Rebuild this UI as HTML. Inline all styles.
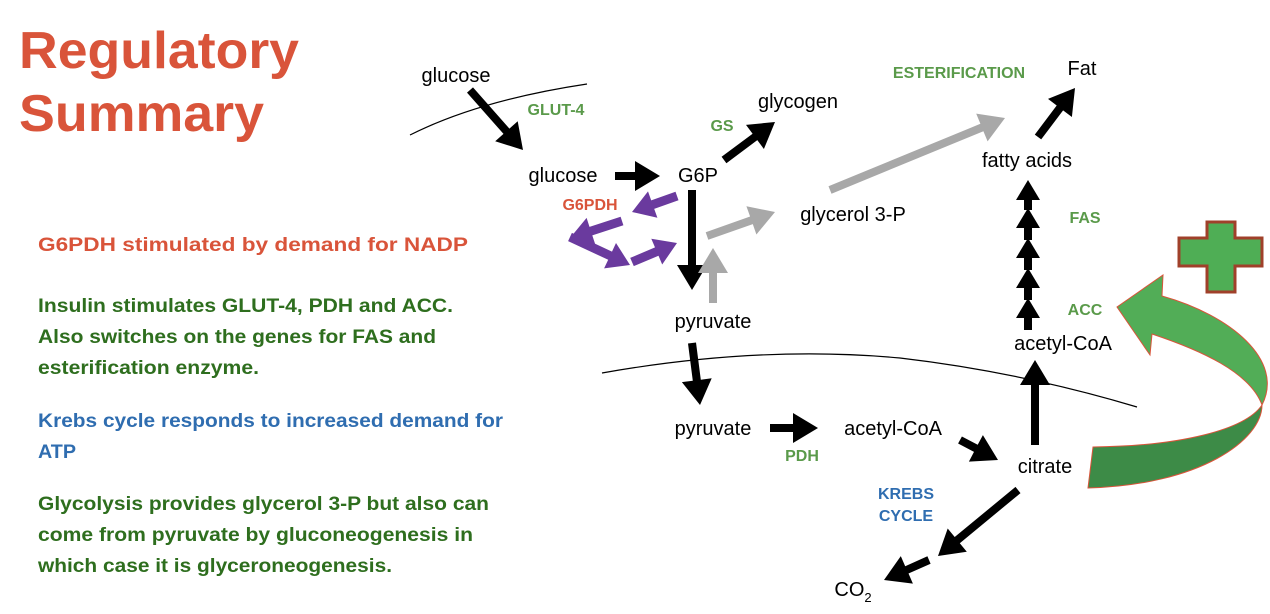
<!DOCTYPE html>
<html><head><meta charset="utf-8"><style>
html,body{margin:0;padding:0;background:#fff;}
svg{display:block;}
.t{font-family:"Liberation Sans",sans-serif;font-size:20px;fill:#000;}
.g{font-family:"Liberation Sans",sans-serif;font-size:16px;font-weight:bold;fill:#5a9a4a;}
.L{font-family:"Liberation Sans",sans-serif;font-size:19px;font-weight:bold;}
</style></head><body>
<svg id="s" width="1270" height="614" viewBox="0 0 1270 614" xmlns="http://www.w3.org/2000/svg">
<text x="19" y="68" font-family="Liberation Sans,sans-serif" font-size="52" font-weight="bold" fill="#d9543a" textLength="280" lengthAdjust="spacingAndGlyphs">Regulatory</text>
<text x="19" y="131" font-family="Liberation Sans,sans-serif" font-size="52" font-weight="bold" fill="#d9543a" textLength="245" lengthAdjust="spacingAndGlyphs">Summary</text>
<g class="L" lengthAdjust="spacingAndGlyphs">
<text x="38" y="251" fill="#d9543a" textLength="430" lengthAdjust="spacingAndGlyphs">G6PDH stimulated  by demand for NADP</text>
<text x="38" y="312" fill="#2e6e1e" textLength="415" lengthAdjust="spacingAndGlyphs">Insulin stimulates GLUT-4, PDH and ACC.</text>
<text x="38" y="343" fill="#2e6e1e" textLength="398" lengthAdjust="spacingAndGlyphs">Also switches on the genes for FAS and</text>
<text x="38" y="374" fill="#2e6e1e" textLength="221" lengthAdjust="spacingAndGlyphs">esterification enzyme.</text>
<text x="38" y="427" fill="#2f6db0" textLength="465" lengthAdjust="spacingAndGlyphs">Krebs cycle responds to increased demand for</text>
<text x="38" y="458" fill="#2f6db0" textLength="38" lengthAdjust="spacingAndGlyphs">ATP</text>
<text x="38" y="510" fill="#2e6e1e" textLength="451" lengthAdjust="spacingAndGlyphs">Glycolysis provides glycerol 3-P but also can</text>
<text x="38" y="541" fill="#2e6e1e" textLength="435" lengthAdjust="spacingAndGlyphs">come from pyruvate by gluconeogenesis in</text>
<text x="38" y="572" fill="#2e6e1e" textLength="354" lengthAdjust="spacingAndGlyphs">which case it is glyceroneogenesis.</text>
</g>
<path d="M410,135 Q480,100 587,84" fill="none" stroke="#000" stroke-width="1.2"/>
<path d="M602,373 Q760,345 900,358 Q1020,372 1137,407" fill="none" stroke="#000" stroke-width="1.2"/>
<g class="t" text-anchor="middle">
<text x="456" y="82">glucose</text>
<text x="563" y="182">glucose</text>
<text x="698" y="182">G6P</text>
<text x="798" y="108">glycogen</text>
<text x="853" y="221">glycerol 3-P</text>
<text x="713" y="328">pyruvate</text>
<text x="713" y="435">pyruvate</text>
<text x="893" y="435">acetyl-CoA</text>
<text x="1045" y="473">citrate</text>
<text x="1063" y="350">acetyl-CoA</text>
<text x="1027" y="167">fatty acids</text>
<text x="1082" y="75">Fat</text>
<text x="853" y="596">CO<tspan font-size="13" dy="6">2</tspan></text>
</g>
<g class="g" text-anchor="middle">
<text x="556" y="115">GLUT-4</text>
<text x="722" y="131">GS</text>
<text x="959" y="78">ESTERIFICATION</text>
<text x="1085" y="223">FAS</text>
<text x="1085" y="315">ACC</text>
<text x="802" y="461">PDH</text>
<text x="590" y="210" fill="#d9543a">G6PDH</text>
<text x="906" y="499" fill="#2f6db0">KREBS</text>
<text x="906" y="521" fill="#2f6db0">CYCLE</text>
</g>
<g id="arr"></g>
<path d="M1093,447 C1180,446 1245,430 1262,405 C1262,440 1200,485 1088,488 Z" fill="#3d8b47" stroke="#d9543a" stroke-width="1"/>
<path d="M1262,405 C1285,360 1230,315 1162,296 L1163,275 L1117,307 L1150,355 L1152,334 C1200,350 1250,372 1262,405 Z" fill="#52ad57" stroke="#d9543a" stroke-width="1"/>
<path d="M1207,222 h28 v16 h27 v28 h-27 v26 h-28 v-26 h-28 v-28 h28 z" fill="#4fae55" stroke="#a0402a" stroke-width="3"/>
</svg>
<script>
var g=document.getElementById('arr'),ns='http://www.w3.org/2000/svg';
function A(x1,y1,x2,y2,c,w,hl,hw){w=w||8;hl=hl||25;hw=hw||15;
var dx=x2-x1,dy=y2-y1,L=Math.hypot(dx,dy),ux=dx/L,uy=dy/L,px=-uy,py=ux;
var bx=x2-ux*hl,by=y2-uy*hl,h=w/2;
var pts=[[x1+px*h,y1+py*h],[bx+px*h,by+py*h],[bx+px*hw,by+py*hw],[x2,y2],[bx-px*hw,by-py*hw],[bx-px*h,by-py*h],[x1-px*h,y1-py*h]];
var p=document.createElementNS(ns,'polygon');p.setAttribute('points',pts.map(function(a){return a[0].toFixed(1)+','+a[1].toFixed(1)}).join(' '));p.setAttribute('fill',c);g.appendChild(p);}
var K='#000',G='#a8a8a8',P='#6a3a9e';
A(470,90,523,150,K);
A(615,176,660,176,K);
A(724,160,775,122,K);
A(692,190,692,290,K);
A(713,303,713,248,G);
A(707,236,775,212,G);
A(830,190,1005,118,G);
A(677,196,632,212,P,9,22,14);
A(622,221,570,238,P,9,22,14);
A(570,237,630,265,P,9,22,14);
A(632,262,677,243,P,9,22,14);
A(692,343,700,405,K);
A(770,428,818,428,K);
A(960,440,998,460,K);
A(1018,490,938,556,K);
A(929,560,884,580,K);
A(1035,445,1035,360,K);
A(1028,330,1028,298,K,8,20,12);
A(1028,300,1028,268,K,8,20,12);
A(1028,270,1028,238,K,8,20,12);
A(1028,240,1028,208,K,8,20,12);
A(1028,210,1028,180,K,8,20,12);
A(1038,137,1075,88,K);
</script>
</body></html>
